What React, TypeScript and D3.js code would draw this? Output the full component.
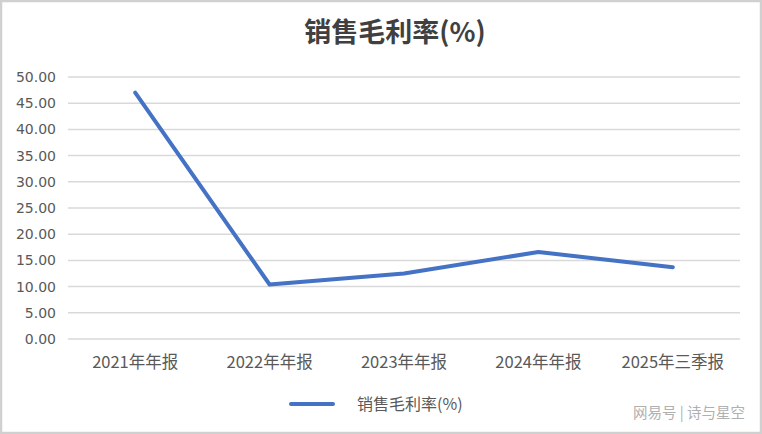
import React from "react";
import * as d3 from "d3";

const categories = ["2021年年报", "2022年年报", "2023年年报", "2024年年报", "2025年三季报"];
const values = [47.0, 10.4, 12.5, 16.6, 13.7];
const yTicks = [0, 5, 10, 15, 20, 25, 30, 35, 40, 45, 50];
const title = "销售毛利率(%)";
const seriesName = "销售毛利率(%)";
const watermark = "网易号 | 诗与星空";

const W = 762, H = 434;
const plot = { left: 68, right: 740, top: 77, bottom: 339 };
const font = "'Noto Sans CJK SC', 'Noto Sans', sans-serif";

export default function App() {
  const x = d3.scaleBand().domain(categories).range([plot.left, plot.right]);
  const y = d3.scaleLinear().domain([0, 50]).range([plot.bottom, plot.top]);
  const line = d3
    .line<number>()
    .x((_, i) => (x(categories[i]) as number) + x.bandwidth() / 2)
    .y((d) => y(d));

  return (
    <svg width={W} height={H} style={{ position: "absolute", left: 0, top: 0 }} fontFamily={font}>
      <rect x={0} y={0} width={W} height={H} fill="#fff" />
      <rect x={1} y={1} width={W - 2} height={H - 2} fill="none" stroke="#d0d0d0" strokeWidth={2.5} />
      <text x={395} y={33} dy="0.35em" textAnchor="middle" fontSize={27} fontWeight="bold" fill="#404040">
        {title}
      </text>
      {yTicks.map((t) => (
        <g key={t}>
          <line x1={plot.left} x2={plot.right} y1={y(t)} y2={y(t)} stroke="#d9d9d9" strokeWidth={1.5} />
          <text
            x={56}
            y={y(t)}
            dy="0.36em"
            textAnchor="end"
            fontSize={14}
            fill="#595959"
            fontFamily="'DejaVu Sans', sans-serif"
          >
            {t.toFixed(2)}
          </text>
        </g>
      ))}
      {categories.map((c) => (
        <text
          key={c}
          x={(x(c) as number) + x.bandwidth() / 2}
          y={362}
          dy="0.35em"
          textAnchor="middle"
          fontSize={16.5}
          fill="#595959"
        >
          {c}
        </text>
      ))}
      <path d={line(values) || ""} fill="none" stroke="#4472C4" strokeWidth={4} strokeLinejoin="round" strokeLinecap="round" />
      <line x1={291} x2={333} y1={404} y2={404} stroke="#4472C4" strokeWidth={4} strokeLinecap="round" />
      <text x={357} y={404} dy="0.35em" fontSize={16} fill="#595959">
        {seriesName}
      </text>
      <text x={745} y={413} dy="0.35em" textAnchor="end" fontSize={14.5} fill="#b0b0b0">
        {watermark}
      </text>
    </svg>
  );
}
